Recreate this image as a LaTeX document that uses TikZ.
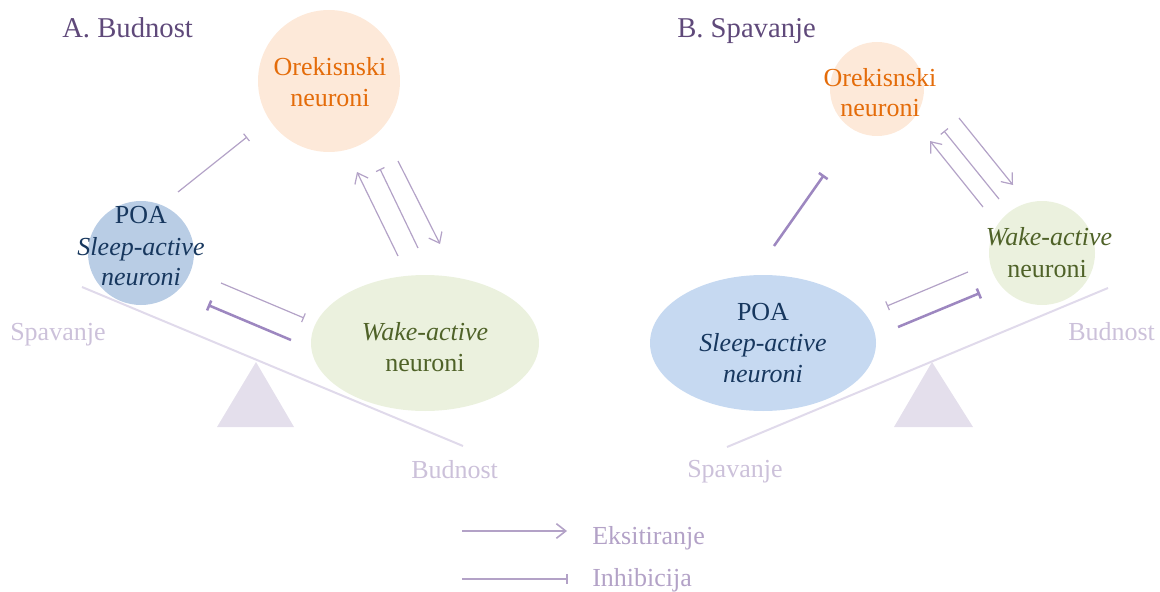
\documentclass[tikz,border=0pt]{standalone}
\usepackage{fontspec}
\setmainfont{Liberation Serif}
\usetikzlibrary{arrows.meta,shapes.geometric}
\definecolor{titlec}{HTML}{5F497A}
\definecolor{linec}{HTML}{B3A2C7}
\definecolor{linedk}{HTML}{9D87C0}
\definecolor{labelc}{HTML}{CCC1DA}
\definecolor{orexfill}{HTML}{FDE9D9}
\definecolor{orextext}{HTML}{E46C0A}
\definecolor{poafillA}{HTML}{B9CDE5}
\definecolor{poafillB}{HTML}{C6D9F1}
\definecolor{poatext}{HTML}{17375E}
\definecolor{wakefill}{HTML}{EBF1DE}
\definecolor{waketext}{HTML}{4F6228}
\definecolor{seesawc}{HTML}{E0DAEB}
\definecolor{tric}{HTML}{E4DFEC}
\begin{document}
\begin{tikzpicture}[x=0.75pt,y=-0.75pt,
  lbl/.style={font=\fontsize{19.5}{23}\selectfont, anchor=base, inner sep=0pt},
  side/.style={font=\fontsize{19.5}{23}\selectfont, anchor=base west, inner sep=0pt, text=labelc},
  ttl/.style={font=\fontsize{21.5}{25}\selectfont, anchor=base west, inner sep=0pt, text=titlec},
  blob/.style={ellipse, inner sep=0pt},
  thinline/.style={draw=linec, line width=0.9pt},
  thickline/.style={draw=linedk, line width=1.9pt},
  exc/.style={-{Straight Barb[length=7pt,width=11pt]}},
  inh/.style={-{Bar[width=7pt]}},
  inhk/.style={-{Bar[width=8pt]}},
  seesaw/.style={draw=seesawc, line width=1.5pt},
  fulcrum/.style={fill=tric, draw=none}
]
\useasboundingbox (0,0) rectangle (1160,592);

% ---------------- Panel A ----------------
\node[ttl] (tA) at (62,38) {A. Budnost};
% seesaw
\coordinate (sAl) at (82,287);
\coordinate (sAr) at (463,446);
\draw[seesaw] (sAl) -- (sAr);
\coordinate (fA1) at (256,362);
\coordinate (fA2) at (217,427);
\coordinate (fA3) at (294,427);
\fill[fulcrum] (fA1) -- (fA2) -- (fA3) -- cycle;
% nodes
\node[blob, fill=orexfill, minimum width=106.5pt, minimum height=106.5pt] (oA) at (329,81) {};
\node[blob, fill=poafillA, minimum width=79.5pt, minimum height=78pt] (pA) at (141,253) {};
\node[blob, fill=wakefill, minimum width=171pt, minimum height=102pt] (wA) at (425,343) {};
\node[lbl, text=orextext] (oAt1) at (330,76) {Orekisnski};
\node[lbl, text=orextext] (oAt2) at (330,107) {neuroni};
\node[lbl, text=poatext] (pAt1) at (141,223) {POA};
\node[lbl, text=poatext] (pAt2) at (141,255) {\itshape Sleep-active};
\node[lbl, text=poatext] (pAt3) at (141,285) {\itshape neuroni};
\node[lbl, text=waketext] (wAt1) at (425,340) {\itshape Wake-active};
\node[lbl, text=waketext] (wAt2) at (425,371) {neuroni};
\node[side] (spA) at (10,340) {Spavanje};
\node[side] (buA) at (411,478) {Budnost};
% connectors
\coordinate (a1s) at (178,192); \coordinate (a1e) at (247,137);
\draw[thinline, inh] (a1s) -- (a1e);
\coordinate (a2s) at (398,256); \coordinate (a2e) at (357,172);
\draw[thinline, exc] (a2s) -- (a2e);
\coordinate (a3s) at (418,248); \coordinate (a3e) at (380,169);
\draw[thinline, inh] (a3s) -- (a3e);
\coordinate (a4s) at (398,161); \coordinate (a4e) at (440,244);
\draw[thinline, exc] (a4s) -- (a4e);
\coordinate (a5s) at (221,283); \coordinate (a5e) at (304,318);
\draw[thinline, inh] (a5s) -- (a5e);
\coordinate (a6s) at (291,340); \coordinate (a6e) at (208,305);
\draw[thickline, inhk] (a6s) -- (a6e);

% ---------------- Panel B ----------------
\node[ttl] (tB) at (677,38) {B. Spavanje};
\coordinate (sBl) at (727,447);
\coordinate (sBr) at (1108,288);
\draw[seesaw] (sBl) -- (sBr);
\coordinate (fB1) at (932,362);
\coordinate (fB2) at (894,427);
\coordinate (fB3) at (973,427);
\fill[fulcrum] (fB1) -- (fB2) -- (fB3) -- cycle;
\node[blob, fill=orexfill, minimum width=70.5pt, minimum height=70.5pt] (oB) at (877,89) {};
\node[blob, fill=wakefill, minimum width=79.5pt, minimum height=78pt] (wB) at (1042,253) {};
\node[blob, fill=poafillB, minimum width=169.5pt, minimum height=102pt] (pB) at (763,343) {};
\node[lbl, text=orextext] (oBt1) at (880,87) {Orekisnski};
\node[lbl, text=orextext] (oBt2) at (880,117) {neuroni};
\node[lbl, text=waketext] (wBt1) at (1049,245) {\itshape Wake-active};
\node[lbl, text=waketext] (wBt2) at (1047,277) {neuroni};
\node[lbl, text=poatext] (pBt1) at (763,320) {POA};
\node[lbl, text=poatext] (pBt2) at (763,351) {\itshape Sleep-active};
\node[lbl, text=poatext] (pBt3) at (763,382) {\itshape neuroni};
\node[side] (buB) at (1068,340) {Budnost};
\node[side] (spB) at (687,477) {Spavanje};
\coordinate (b1s) at (774,246); \coordinate (b1e) at (824,175);
\draw[thickline, inhk] (b1s) -- (b1e);
\coordinate (b2s) at (983,207); \coordinate (b2e) at (930,141);
\draw[thinline, exc] (b2s) -- (b2e);
\coordinate (b3s) at (999,199); \coordinate (b3e) at (944,131);
\draw[thinline, inh] (b3s) -- (b3e);
\coordinate (b4s) at (959,118); \coordinate (b4e) at (1013,185);
\draw[thinline, exc] (b4s) -- (b4e);
\coordinate (b5s) at (968,272); \coordinate (b5e) at (887,306);
\draw[thinline, inh] (b5s) -- (b5e);
\coordinate (b6s) at (898,327); \coordinate (b6e) at (980,293);
\draw[thickline, inhk] (b6s) -- (b6e);

% ---------------- Legend ----------------
\coordinate (l1s) at (462,531); \coordinate (l1e) at (567,531);
\draw[draw=linec, line width=1.2pt, exc] (l1s) -- (l1e);
\coordinate (l2s) at (462,579); \coordinate (l2e) at (568,579);
\draw[draw=linec, line width=1.2pt, inh] (l2s) -- (l2e);
\node[side, text=linec] (le1) at (592,544) {Eksitiranje};
\node[side, text=linec] (le2) at (592,586) {Inhibicija};
\end{tikzpicture}
\end{document}
